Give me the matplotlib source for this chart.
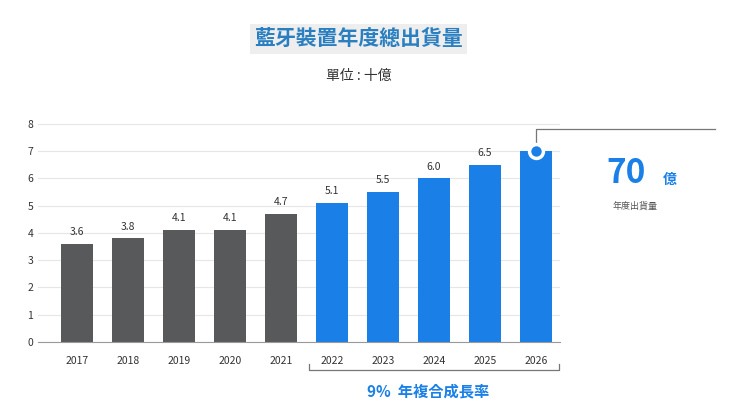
import matplotlib.pyplot as plt
from matplotlib import font_manager
from matplotlib.transforms import blended_transform_factory

installed = {f.name for f in font_manager.fontManager.ttflist}
cjk = [n for n in ['Noto Sans CJK TC', 'Noto Sans CJK JP', 'Noto Sans CJK SC', 'Noto Sans CJK KR'] if n in installed]
plt.rcParams['font.family'] = 'sans-serif'
plt.rcParams['font.sans-serif'] = cjk + ['DejaVu Sans']

years = ['2017', '2018', '2019', '2020', '2021', '2022', '2023', '2024', '2025', '2026']
shipments = [3.6, 3.8, 4.1, 4.1, 4.7, 5.1, 5.5, 6.0, 6.5, 7.0]
value_labels = ['3.6', '3.8', '4.1', '4.1', '4.7', '5.1', '5.5', '6.0', '6.5', '']
y_ticks = [0, 1, 2, 3, 4, 5, 6, 7, 8]

GRAY = '#58595b'
BLUE = '#1a80e8'
colors = [GRAY] * 5 + [BLUE] * 5

fig = plt.figure(figsize=(7.32, 4.09), dpi=100)
ax = fig.add_axes([0.052, 0.164, 0.713, 0.533])
x = list(range(len(years)))
ax.bar(x, shipments, width=0.63, color=colors, zorder=2)
for xi, v, lab in zip(x, shipments, value_labels):
    if lab:
        ax.text(xi, v + 0.25, lab, ha='center', va='bottom', fontsize=7.5, color='#333333')

ax.set_xlim(-0.76, 9.47)
ax.set_ylim(0, 8)
ax.set_yticks(y_ticks)
ax.set_xticks(x)
ax.set_xticklabels(years)
ax.tick_params(length=0, labelsize=7.5, colors='#333333')
ax.tick_params(axis='x', pad=10)
ax.grid(axis='y', color='#e6e6e6', linewidth=0.8, zorder=0)
for s in ['top', 'right', 'left']:
    ax.spines[s].set_visible(False)
ax.spines['bottom'].set_color('#999999')

# marker on last bar with callout line
ax.plot([9], [shipments[-1]], 'o', ms=10, color=BLUE, markeredgecolor='white', mew=2.5, zorder=4, clip_on=False)
ax.plot([9, 9, 12.5], [shipments[-1], 7.8, 7.8], color='#777777', lw=0.9, zorder=3, clip_on=False)

# right-hand callout
fig.text(0.855, 0.575, '70', color=BLUE, fontsize=24, fontweight='bold', ha='center', va='center')
fig.text(0.915, 0.56, '億', color=BLUE, fontsize=10, fontweight='bold', ha='center', va='center')
fig.text(0.868, 0.495, '年度出貨量', color='#555555', fontsize=6.5, ha='center', va='center')

# CAGR bracket
tr = blended_transform_factory(ax.transData, fig.transFigure)
ax.plot([4.55, 4.55, 9.45, 9.45], [0.11, 0.095, 0.095, 0.11], color='#777777', lw=0.9, transform=tr, clip_on=False)
fig.text(0.585, 0.042, '9%  年複合成長率', color=BLUE, fontsize=11, fontweight='bold', ha='center', va='center')

# titles
fig.text(0.49, 0.905, '藍牙裝置年度總出貨量', color='#2a7fc1', fontsize=15, fontweight='bold', ha='center', va='center',
         bbox=dict(facecolor='#eeeeee', edgecolor='none', pad=3))
fig.text(0.49, 0.815, '單位 : 十億', color='#333333', fontsize=10, ha='center', va='center')

fig.savefig('out.png', dpi=100, facecolor='white')
